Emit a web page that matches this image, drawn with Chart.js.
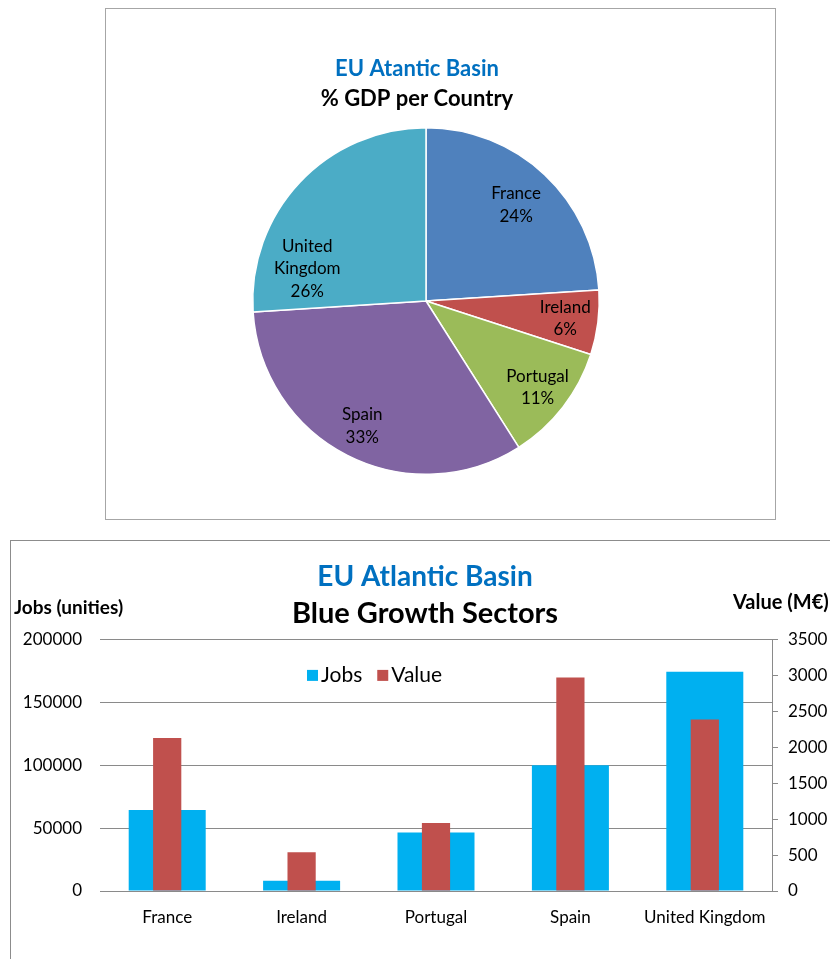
<!DOCTYPE html>
<html>
<head>
<meta charset="utf-8">
<script src="https://cdn.jsdelivr.net/npm/chart.js@4.4.0/dist/chart.umd.min.js"></script>
<style>
  html, body { margin: 0; padding: 0; background: #fff; width: 830px; height: 959px; overflow: hidden; }
  #box1 { position: absolute; left: 105px; top: 8px; width: 669px; height: 510px; border: 1px solid #a6a6a6; }
  #box2 { position: absolute; left: 10px; top: 540px; width: 840px; height: 440px; border: 1px solid #8c8c8c; }
  canvas { display: block; }
</style>
</head>
<body>
<div id="box1"><canvas id="gdp" width="669" height="510"></canvas></div>
<div id="box2"><canvas id="blue" width="819" height="418"></canvas></div>
<script>
// data
const countries = ['France', 'Ireland', 'Portugal', 'Spain', 'United Kingdom'];
const gdpShare = [24, 6, 11, 33, 26];
const jobs = [64300, 8200, 46500, 99900, 174200];
const valueMEur = [2130, 540, 945, 2970, 2385];
const jobsTicks = [0, 50000, 100000, 150000, 200000];
const valueTicks = [0, 500, 1000, 1500, 2000, 2500, 3000, 3500];

Chart.defaults.font.family = 'Lato';
Chart.defaults.color = '#000';
Chart.defaults.animation = false;

// titles + labels inside pie slices: place = [position along slice, fraction of radius]
const pieText = {
    id: 'pieText',
    afterDatasetsDraw(chart, args, opts) {
        const ctx = chart.ctx;
        const meta = chart.getDatasetMeta(0);
        ctx.save();
        ctx.textAlign = 'center';
        ctx.textBaseline = 'middle';

        ctx.font = 'bold 22px Lato';
        ctx.fillStyle = '#0070C0';
        ctx.fillText('EU Atantic Basin', opts.titleX, 60);
        ctx.fillStyle = '#000';
        ctx.fillText('% GDP per Country', opts.titleX, 90);

        ctx.font = opts.font;
        meta.data.forEach((arc, i) => {
            const p = arc.getProps(['x', 'y', 'startAngle', 'endAngle', 'outerRadius'], true);
            const a = p.startAngle + (p.endAngle - p.startAngle) * opts.place[i][0];
            const cx = p.x + Math.cos(a) * p.outerRadius * opts.place[i][1];
            const cy = p.y + Math.sin(a) * p.outerRadius * opts.place[i][1];
            const lines = chart.data.labels[i].split(' ').concat(chart.data.datasets[0].data[i] + '%');
            lines.forEach((t, k) => ctx.fillText(t, cx, cy + (k - (lines.length - 1) / 2) * opts.lineHeight));
        });
        ctx.restore();
    }
};

const gdpChart = new Chart(document.getElementById('gdp'), {
    type: 'pie',
    data: {
        labels: countries,
        datasets: [{
            data: gdpShare,
            backgroundColor: ['#4F81BD', '#C0504D', '#9BBB59', '#8064A2', '#4BACC6'],
            borderColor: '#fff',
            borderWidth: 1.5
        }]
    },
    options: {
        responsive: false,
        layout: { padding: { left: 146, right: 175, top: 118, bottom: 44 } },
        plugins: {
            legend: { display: false },
            tooltip: { enabled: false },
            pieText: {
                titleX: 311,
                font: '17px Lato', lineHeight: 22.5,
                place: [[0.5, 0.76], [0.5, 0.81], [0.5, 0.815], [0.5, 0.81], [0.2, 0.71]]
            }
        }
    },
    plugins: [pieText]
});

// legend and axis titles drawn inside the bar chart
const barExtras = {
    id: 'barExtras',
    afterDraw(chart, args, opts) {
        const ctx = chart.ctx;
        const area = chart.chartArea;
        ctx.save();
        ctx.textBaseline = 'middle';
        ctx.textAlign = 'left';
        ctx.fillStyle = '#000';
        ctx.font = 'bold 19px Lato';
        ctx.fillText('Jobs (unities)', 3, area.top - 32);
        ctx.font = 'bold 20px Lato';
        ctx.fillText('Value (M€)', area.right - 39, area.top - 37);

        ctx.font = '21px Lato';
        let x = area.left + 207;
        const y = area.top + 36;
        chart.data.datasets.forEach(ds => {
            ctx.fillStyle = ds.backgroundColor;
            ctx.fillRect(x, y - 5.5, 11, 11);
            x += 14;
            ctx.fillStyle = '#000';
            ctx.fillText(ds.label, x, y);
            x += ctx.measureText(ds.label).width + 15;
        });
        ctx.restore();
    }
};

const gridGray = '#8a8a8a';

const blueChart = new Chart(document.getElementById('blue'), {
    type: 'bar',
    data: {
        labels: countries,
        datasets: [{
            label: 'Jobs',
            data: jobs,
            yAxisID: 'y',
            backgroundColor: '#00B0F0',
            grouped: false,
            categoryPercentage: 1,
            barPercentage: 0.573,
            order: 2
        }, {
            label: 'Value',
            data: valueMEur,
            yAxisID: 'y2',
            backgroundColor: '#C0504D',
            grouped: false,
            categoryPercentage: 1,
            barPercentage: 0.21,
            order: 1
        }]
    },
    options: {
        responsive: false,
        layout: { padding: { left: 9, right: 0, top: 0, bottom: 0 } },
        plugins: {
            legend: { display: false },
            tooltip: { enabled: false },
            title: {
                display: true, text: 'EU Atlantic Basin', color: '#0070C0',
                font: { size: 28, weight: 'bold' }, padding: { top: 19, bottom: 3 }
            },
            subtitle: {
                display: true, text: 'Blue Growth Sectors', color: '#000',
                font: { size: 29, weight: 'bold' }, padding: { top: 0, bottom: 8 }
            }
        },
        scales: {
            x: {
                grid: { display: false },
                border: { display: true, color: gridGray },
                ticks: { font: { size: 17 }, padding: 8, maxRotation: 0 },
                afterFit(s) { s.height = 68; }
            },
            y: {
                position: 'left',
                min: jobsTicks[0],
                max: jobsTicks[jobsTicks.length - 1],
                afterBuildTicks(s) { s.ticks = jobsTicks.map(v => ({ value: v })); },
                grid: { color: gridGray, drawTicks: false },
                border: { display: false },
                ticks: { font: { size: 17 }, padding: 18, callback: v => String(v) },
                afterFit(s) { s.width = 80; }
            },
            y2: {
                position: 'right',
                min: valueTicks[0],
                max: valueTicks[valueTicks.length - 1],
                afterBuildTicks(s) { s.ticks = valueTicks.map(v => ({ value: v })); },
                grid: { drawOnChartArea: false, drawTicks: true, tickLength: 6, color: gridGray },
                border: { display: true, color: gridGray },
                ticks: { font: { size: 17 }, padding: 10, callback: v => String(v) },
                afterFit(s) { s.width = 58; }
            }
        }
    },
    plugins: [barExtras]
});
</script>
</body>
</html>
